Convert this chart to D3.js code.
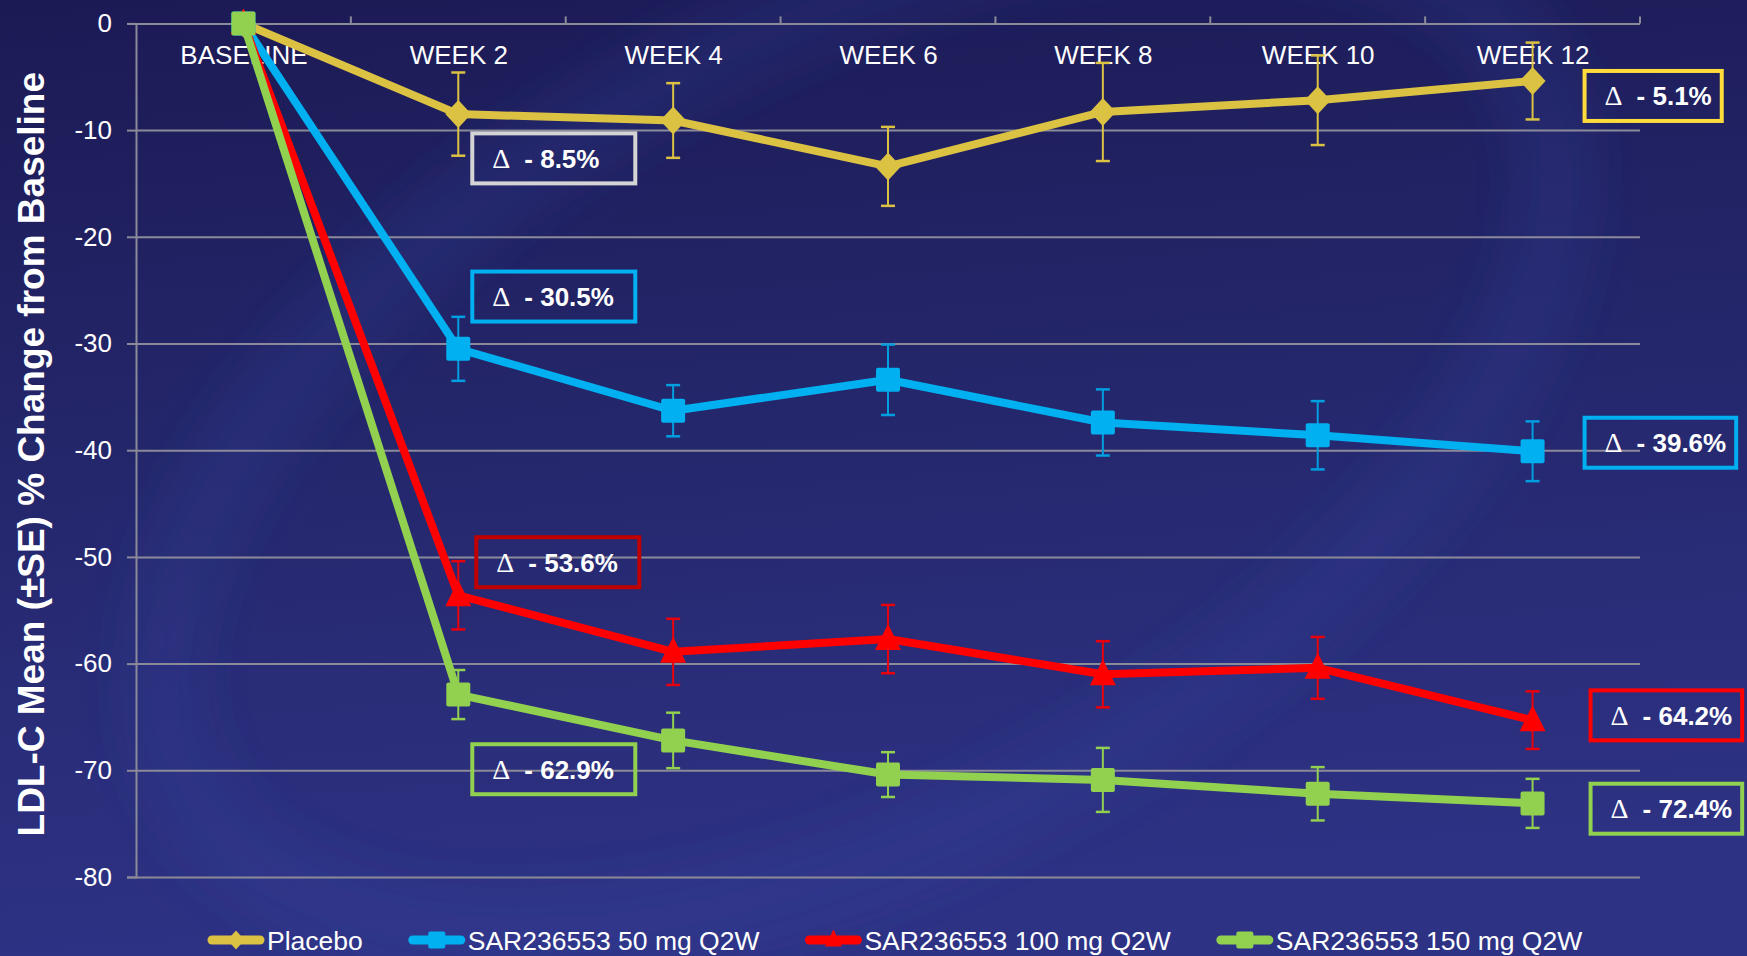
<!DOCTYPE html>
<html>
<head>
<meta charset="utf-8">
<script src="https://cdn.jsdelivr.net/npm/d3@7"></script>
<style>
  html, body { margin: 0; padding: 0; overflow: hidden; background: #23245f; }
  svg text { font-family: "Liberation Sans", Arial, sans-serif; }
</style>
</head>
<body>
<div id="chart"></div>
<script>
// categories along the top axis
const weeks = ['BASELINE', 'WEEK 2', 'WEEK 4', 'WEEK 6', 'WEEK 8', 'WEEK 10', 'WEEK 12']
const yTicks = [0, -10, -20, -30, -40, -50, -60, -70, -80]

// mean % change from baseline
const placebo = [0, -8.5, -9.1, -13.4, -8.3, -7.2, -5.4]
const dose50 = [0, -30.5, -36.3, -33.4, -37.4, -38.6, -40.1]
const dose100 = [0, -53.6, -58.9, -57.7, -61.0, -60.4, -65.3]
const dose150 = [0, -62.9, -67.2, -70.4, -70.9, -72.2, -73.1]

// standard errors
const placeboSE = [0, 3.9, 3.5, 3.7, 4.6, 4.2, 3.6]
const dose50SE = [0, 3.0, 2.4, 3.3, 3.1, 3.2, 2.8]
const dose100SE = [0, 3.2, 3.1, 3.2, 3.1, 2.9, 2.7]
const dose150SE = [0, 2.3, 2.6, 2.1, 3.0, 2.5, 2.3]

const seriesNames = ['Placebo', 'SAR236553 50 mg Q2W', 'SAR236553 100 mg Q2W', 'SAR236553 150 mg Q2W']

// delta call-outs: series index, week, text, value the box is centred on
const deltaLabels = [
    { s: 0, week: 'WEEK 2', text: '- 8.5%', at: -12.65, color: '#d4d4d4' },
    { s: 1, week: 'WEEK 2', text: '- 30.5%', at: -25.6, color: '#00b0f0' },
    { s: 2, week: 'WEEK 2', text: '- 53.6%', at: -50.5, color: '#c00000' },
    { s: 3, week: 'WEEK 2', text: '- 62.9%', at: -69.9, color: '#92d050' },
    { s: 0, week: 'WEEK 12', text: '- 5.1%', at: -6.8, color: '#ffdc3c' },
    { s: 1, week: 'WEEK 12', text: '- 39.6%', at: -39.3, color: '#00b0f0' },
    { s: 2, week: 'WEEK 12', text: '- 64.2%', at: -64.85, color: '#ff0000' },
    { s: 3, week: 'WEEK 12', text: '- 72.4%', at: -73.6, color: '#92d050' }
]

const width = 1747
const height = 956
const plotLeft = 136, plotRight = 1640, plotTop = 23.4, plotBottom = 877

const svg = d3.select('#chart')
    .append('svg')
    .attr('width', width)
    .attr('height', height)

const defs = svg.append('defs')
const bg = defs.append('linearGradient').attr('id', 'bg')
    .attr('x1', 0).attr('y1', 0).attr('x2', 0.15).attr('y2', 1)
bg.append('stop').attr('offset', '0%').attr('stop-color', '#1c1a55')
bg.append('stop').attr('offset', '45%').attr('stop-color', '#24266a')
bg.append('stop').attr('offset', '100%').attr('stop-color', '#2e3284')
defs.append('filter').attr('id', 'blur')
    .attr('x', '-20%').attr('y', '-20%').attr('width', '140%').attr('height', '140%')
    .append('feGaussianBlur').attr('stdDeviation', 30)

svg.append('rect').attr('width', width).attr('height', height).attr('fill', 'url(#bg)')

/* faint swoosh in the background */
svg.append('ellipse')
    .attr('cx', 860).attr('cy', 430).attr('rx', 760).attr('ry', 400)
    .attr('transform', 'rotate(-28 860 430)')
    .attr('fill', 'none')
    .attr('stroke', '#3c4fae')
    .attr('stroke-opacity', 0.22)
    .attr('stroke-width', 70)
    .attr('filter', 'url(#blur)')

const x = d3.scalePoint().domain(weeks).range([plotLeft, plotRight]).padding(0.5)
const xBand = d3.scaleBand().domain(weeks).range([plotLeft, plotRight])
const y = d3.scaleLinear().domain([-80, 0]).range([plotBottom, plotTop])

/* gridlines */
svg.append('g')
    .attr('transform', `translate(${plotLeft},0)`)
    .call(d3.axisLeft(y).tickValues(yTicks).tickSize(-(plotRight - plotLeft)).tickFormat(''))
    .call(g => g.select('.domain').remove())
    .selectAll('line')
    .attr('stroke', '#8a8a98')
    .attr('stroke-width', 2)

/* y axis */
svg.append('g')
    .attr('transform', `translate(${plotLeft},0)`)
    .call(d3.axisLeft(y).tickValues(yTicks).tickSize(9).tickPadding(15).tickFormat(d => String(d)))
    .call(g => g.select('.domain').attr('stroke', '#8a8a98').attr('stroke-width', 2))
    .call(g => g.selectAll('line').attr('stroke', '#8a8a98').attr('stroke-width', 2))
    .selectAll('text')
    .attr('fill', 'white')
    .style('font-size', '26px')

/* top axis: ticks between categories, labels under the zero line */
svg.append('g')
    .selectAll('line')
    .data(weeks.slice(1).concat(['end']))
    .enter()
    .append('line')
    .attr('x1', d => d === 'end' ? plotRight : xBand(d))
    .attr('x2', d => d === 'end' ? plotRight : xBand(d))
    .attr('y1', y(0) - 7)
    .attr('y2', y(0))
    .attr('stroke', '#8a8a98')
    .attr('stroke-width', 2)

svg.append('g')
    .attr('transform', `translate(0,${y(0)})`)
    .call(d3.axisBottom(x).tickSize(0).tickPadding(22))
    .call(g => g.select('.domain').remove())
    .selectAll('text')
    .attr('fill', 'white')
    .style('font-size', '26px')

/* y label */
svg.append('text')
    .text('LDL-C Mean (±SE) % Change from Baseline')
    .attr('transform', `translate(44,${(plotTop + plotBottom) / 2 + 4}) rotate(-90)`)
    .attr('text-anchor', 'middle')
    .attr('fill', 'white')
    .style('font-size', '37px')
    .style('font-weight', 'bold')

const series = [
    { values: placebo, se: placeboSE, color: '#dcc243', bar: '#dcc243', shape: 'diamond' },
    { values: dose50, se: dose50SE, color: '#00b0f0', bar: '#009fe0', shape: 'square' },
    { values: dose100, se: dose100SE, color: '#ff0000', bar: '#e8000c', shape: 'triangle' },
    { values: dose150, se: dose150SE, color: '#92d050', bar: '#92d050', shape: 'square' }
]

function marker(g, shape, size, color) {
    const h = size / 2
    if (shape === 'square') {
        g.append('rect').attr('x', -h).attr('y', -h).attr('width', size).attr('height', size)
            .attr('rx', 2).attr('fill', color)
    } else if (shape === 'diamond') {
        g.append('path').attr('d', `M0,${-h - 1}L${h},0L0,${h + 1}L${-h},0Z`).attr('fill', color)
    } else {
        g.append('path').attr('d', `M0,${-h - 2}L${h},${h - 2}L${-h},${h - 2}Z`).attr('fill', color)
    }
}

const line = d3.line()
    .x((d, i) => x(weeks[i]))
    .y(d => y(d))

series.forEach(s => {
    const g = svg.append('g')
    // error bars
    s.values.forEach((v, i) => {
        if (!s.se[i]) return
        const cx = x(weeks[i])
        g.append('line').attr('x1', cx).attr('x2', cx)
            .attr('y1', y(v + s.se[i])).attr('y2', y(v - s.se[i]))
            .attr('stroke', s.bar).attr('stroke-width', 2)
        ;[v + s.se[i], v - s.se[i]].forEach(e => {
            g.append('line').attr('x1', cx - 7).attr('x2', cx + 7)
                .attr('y1', y(e)).attr('y2', y(e))
                .attr('stroke', s.bar).attr('stroke-width', 2.5)
        })
    })
    g.append('path')
        .datum(s.values)
        .attr('fill', 'none')
        .attr('stroke', s.color)
        .attr('stroke-width', 8)
        .attr('stroke-linejoin', 'round')
        .attr('d', line)
    s.values.forEach((v, i) => {
        const m = g.append('g').attr('transform', `translate(${x(weeks[i])},${y(v)})`)
        marker(m, s.shape, s.shape === 'square' ? 24 : 26, s.color)
    })
})

/* delta boxes */
deltaLabels.forEach(d => {
    const isEnd = d.week === 'WEEK 12'
    const bx = x(d.week) + (isEnd ? (d.s >= 2 ? 58 : 52) : (d.s === 2 ? 18 : 14))
    const cy = y(d.at)
    const g = svg.append('g').attr('transform', `translate(${bx},${cy})`)
    const rect = g.append('rect')
        .attr('y', -25)
        .attr('height', 50)
        .attr('fill', 'none')
        .attr('stroke', d.color)
        .attr('stroke-width', 4)
    const t = g.append('text')
        .attr('x', 20)
        .attr('dy', '0.36em')
        .attr('fill', 'white')
        .style('font-size', '26px')
    t.append('tspan').text('Δ')
        .style('font-family', '"Liberation Serif", "Times New Roman", serif')
        .style('font-size', '28px')
        .style('font-weight', 'normal')
    t.append('tspan').text(d.text)
        .attr('dx', 14)
        .style('font-weight', 'bold')
    const w = isEnd ? t.node().getComputedTextLength() + 44 : 163
    rect.attr('width', w)
})

/* legend */
let lx = 207
const ly = 940
series.forEach((s, i) => {
    const g = svg.append('g').attr('transform', `translate(${lx},${ly})`)
    g.append('line').attr('x1', 5).attr('x2', 53).attr('y1', 0).attr('y2', 0)
        .attr('stroke', s.color).attr('stroke-width', 9).attr('stroke-linecap', 'round')
    const m = g.append('g').attr('transform', 'translate(29,0)')
    marker(m, s.shape, 17, s.color)
    const t = g.append('text')
        .text(seriesNames[i])
        .attr('x', 60)
        .attr('dy', '0.36em')
        .attr('fill', 'white')
        .style('font-size', '26.5px')
    lx += 60 + t.node().getComputedTextLength() + 45
})
</script>
</body>
</html>
